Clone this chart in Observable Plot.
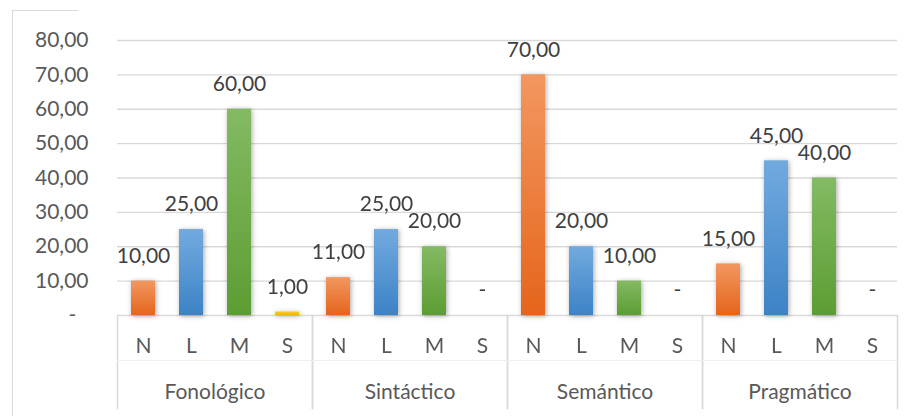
<!DOCTYPE html>
<html>
<head>
<meta charset="utf-8">
<script src="https://cdn.jsdelivr.net/npm/d3@7"></script>
<script src="https://cdn.jsdelivr.net/npm/@observablehq/plot@0.6"></script>
<style>
  html, body { margin: 0; padding: 0; background: #fff; }
  #wrap { position: relative; width: 914px; height: 416px; overflow: hidden; }
  #border { position: absolute; left: 12px; top: 10px; width: 65px; height: 420px;
            border-left: 1.5px solid #d9d9d9; border-top: 1.5px solid #d9d9d9; }
  #chart { position: absolute; left: 0; top: 0; }
</style>
</head>
<body>
<div id="wrap"><div id="border"></div><div id="chart"></div></div>
<script>
const groups = ["Fonológico", "Sintáctico", "Semántico", "Pragmático"];
const cats = ["N", "L", "M", "S"];
const valuesN = [10, 11, 70, 15];
const valuesL = [25, 25, 20, 45];
const valuesM = [60, 20, 10, 40];
const valuesS = [1, 0, 0, 0];
const yTicks = [0, 10, 20, 30, 40, 50, 60, 70, 80];
const gradTop = {N: "#F29760", L: "#72AADF", M: "#84BA63", S: "#FFC83D"};
const gradBottom = {N: "#E5651B", L: "#3C83C6", M: "#5C9D33", S: "#F5B400"};

const seriesValues = {N: valuesN, L: valuesL, M: valuesM, S: valuesS};
const data = [];
groups.forEach((g, i) => cats.forEach(c => data.push({group: g, cat: c, value: seriesValues[c][i]})));

const fmt = v => v === 0 ? "-" : v.toFixed(2).replace(".", ",");

const svg = Plot.plot({
  width: 914,
  height: 416,
  marginLeft: 117,
  marginRight: 17,
  marginTop: 40,
  marginBottom: 101,
  style: {fontFamily: "Lato, 'Open Sans', sans-serif", fontSize: "21px", color: "#595959", background: "transparent"},
  fx: {domain: groups, padding: 0, axis: null},
  x: {domain: cats, paddingInner: 0.5, paddingOuter: 0.25, axis: null},
  y: {domain: [0, 80], axis: null},
  marks: [
    Plot.ruleY(yTicks, {stroke: "#d9d9d9", strokeWidth: 1.3}),
    ...cats.map(c => Plot.barY(data.filter(d => d.cat === c), {fx: "group", x: "cat", y: "value", fill: `url(#grad${c})`})),
    Plot.text(data, {fx: "group", x: "cat", y: "value", text: d => fmt(d.value), dy: -25, fill: "#404040", fontSize: 21}),
    Plot.axisY({ticks: yTicks, tickSize: 0, tickPadding: 29, fontSize: 21, label: null,
      tickFormat: d => d === 0 ? "-\u2007" : fmt(d)}),
    Plot.text(cats, {x: d => d, text: d => d, frameAnchor: "bottom", dy: 37, fill: "#595959", fontSize: 21}),
    Plot.text(groups, {fx: d => d, text: d => d, frameAnchor: "bottom", dy: 83, fill: "#595959", fontSize: 21}),
    Plot.frame({anchor: "left", stroke: "#d9d9d9", strokeWidth: 1.5, insetTop: 275, insetBottom: -93}),
    Plot.frame({anchor: "right", stroke: "#d9d9d9", strokeWidth: 1.5, insetTop: 275, insetBottom: -93}),
    Plot.frame({anchor: "bottom", stroke: "#eeeeee", strokeWidth: 1, insetBottom: -45})
  ]
});

const defs = document.createElementNS("http://www.w3.org/2000/svg", "defs");
defs.innerHTML = cats.map(c =>
  `<linearGradient id="grad${c}" x1="0" y1="0" x2="0" y2="1">
     <stop offset="0" stop-color="${gradTop[c]}"/>
     <stop offset="1" stop-color="${gradBottom[c]}"/>
   </linearGradient>`).join("");
svg.prepend(defs);
svg.querySelectorAll('g[aria-label="bar"]').forEach(g => {
  g.style.filter = "drop-shadow(1px 1px 2.5px rgba(0,0,0,0.35))";
});
document.getElementById("chart").appendChild(svg);
</script>
</body>
</html>
